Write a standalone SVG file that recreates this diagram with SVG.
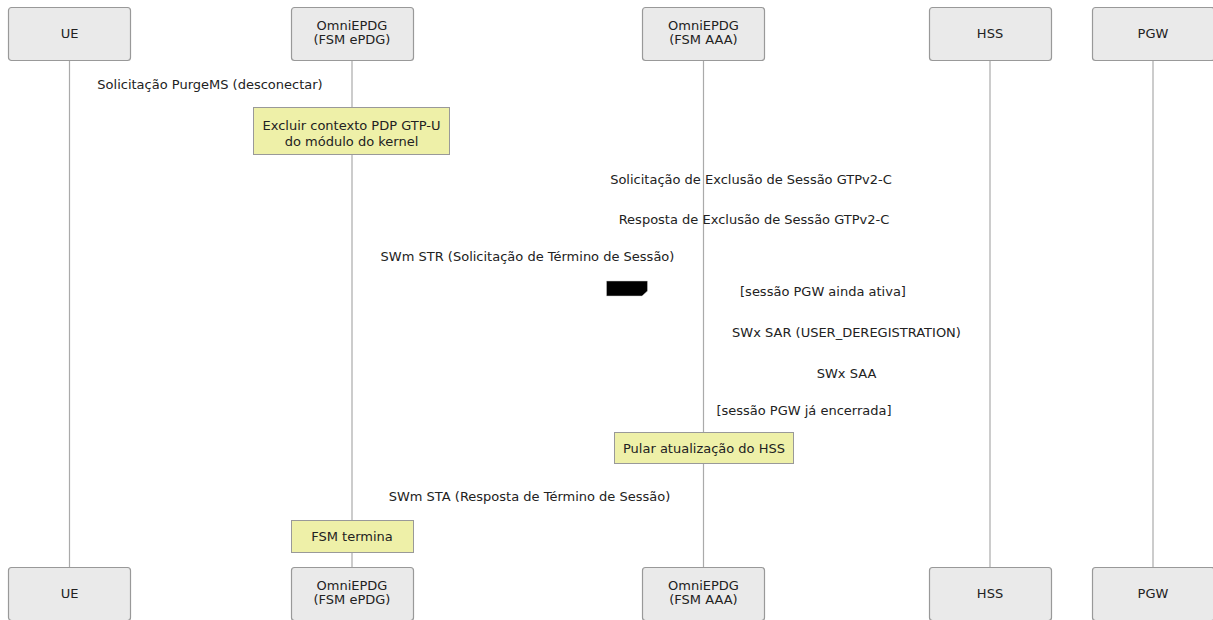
<svg xmlns="http://www.w3.org/2000/svg" width="1213" height="620" viewBox="0 0 1213 620">
<style>
.actor{fill:#eaeaea;stroke:#999;stroke-width:1.2}
.life{stroke:#aaa;stroke-width:1.2;fill:none}
.note{fill:#eef0a8;stroke:#999;stroke-width:1}
text{font-family:"DejaVu Sans","Noto Sans",sans-serif;font-size:13px;fill:#222}
.c{text-anchor:middle}
</style>
<rect width="1213" height="620" fill="#fff"/>
<g id="lifelines">
<line class="life" x1="69.5" y1="60" x2="69.5" y2="567"/>
<line class="life" x1="352" y1="60" x2="352" y2="567"/>
<line class="life" x1="703.5" y1="60" x2="703.5" y2="567"/>
<line class="life" x1="990" y1="60" x2="990" y2="567"/>
<line class="life" x1="1153" y1="60" x2="1153" y2="567"/>
</g>
<g id="actor-ue-top"><rect class="actor" x="8.5" y="7.5" width="122" height="53" rx="3"/><text class="c" x="69.5" y="38">UE</text></g>
<g id="actor-epdg-top"><rect class="actor" x="291.5" y="7.5" width="122" height="53" rx="3"/><text class="c" x="352" y="30">OmniEPDG</text><text class="c" x="352" y="43.5">(FSM ePDG)</text></g>
<g id="actor-aaa-top"><rect class="actor" x="642.5" y="7.5" width="122" height="53" rx="3"/><text class="c" x="703.5" y="30">OmniEPDG</text><text class="c" x="703.5" y="43.5">(FSM AAA)</text></g>
<g id="actor-hss-top"><rect class="actor" x="929.5" y="7.5" width="122" height="53" rx="3"/><text class="c" x="990" y="38">HSS</text></g>
<g id="actor-pgw-top"><rect class="actor" x="1092.5" y="7.5" width="122" height="53" rx="3"/><text class="c" x="1153" y="38">PGW</text></g>
<g id="actor-ue-bottom"><rect class="actor" x="8.5" y="567.5" width="122" height="53" rx="3"/><text class="c" x="69.5" y="598">UE</text></g>
<g id="actor-epdg-bottom"><rect class="actor" x="291.5" y="567.5" width="122" height="53" rx="3"/><text class="c" x="352" y="590">OmniEPDG</text><text class="c" x="352" y="603.5">(FSM ePDG)</text></g>
<g id="actor-aaa-bottom"><rect class="actor" x="642.5" y="567.5" width="122" height="53" rx="3"/><text class="c" x="703.5" y="590">OmniEPDG</text><text class="c" x="703.5" y="603.5">(FSM AAA)</text></g>
<g id="actor-hss-bottom"><rect class="actor" x="929.5" y="567.5" width="122" height="53" rx="3"/><text class="c" x="990" y="598">HSS</text></g>
<g id="actor-pgw-bottom"><rect class="actor" x="1092.5" y="567.5" width="122" height="53" rx="3"/><text class="c" x="1153" y="598">PGW</text></g>
<g id="connectors">
<text class="c" x="210" y="89">Solicitação PurgeMS (desconectar)</text>
<text class="c" x="751" y="184">Solicitação de Exclusão de Sessão GTPv2-C</text>
<text class="c" x="754" y="224">Resposta de Exclusão de Sessão GTPv2-C</text>
<text class="c" x="527.5" y="261">SWm STR (Solicitação de Término de Sessão)</text>
<text class="c" x="846.5" y="337">SWx SAR (USER_DEREGISTRATION)</text>
<text class="c" x="846.5" y="378">SWx SAA</text>
<text class="c" x="529.5" y="501">SWm STA (Resposta de Término de Sessão)</text>
</g>
<g id="alt">
<polygon points="606.5,281 647.5,281 647.5,291 642,296 606.5,296" fill="#000" stroke="#ccc" stroke-width="0.5"/>
<text class="c" x="823" y="296">[sessão PGW ainda ativa]</text>
<text class="c" x="804" y="415">[sessão PGW já encerrada]</text>
</g>
<g id="note-kernel"><rect class="note" x="253.5" y="107.5" width="196" height="47"/><text class="c" x="351.5" y="130">Excluir contexto PDP GTP-U</text><text class="c" x="351.5" y="146">do módulo do kernel</text></g>
<g id="note-hss"><rect class="note" x="614.5" y="432.5" width="179" height="31"/><text class="c" x="704" y="453">Pular atualização do HSS</text></g>
<g id="note-fsm"><rect class="note" x="291.5" y="520.5" width="122" height="32"/><text class="c" x="352" y="541">FSM termina</text></g>
</svg>
